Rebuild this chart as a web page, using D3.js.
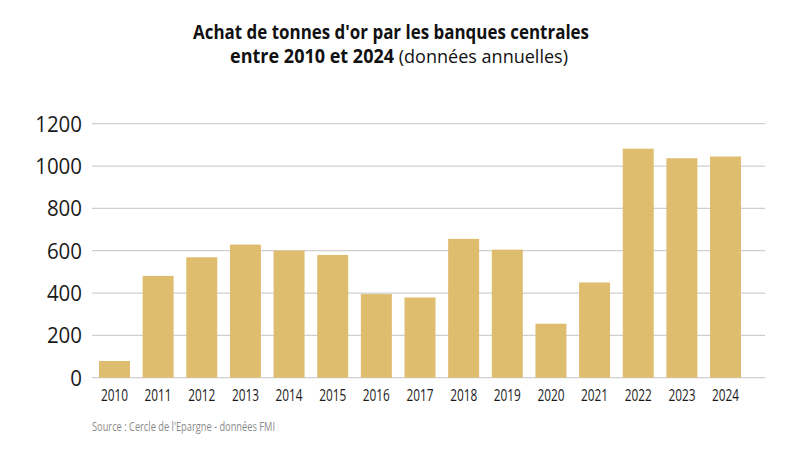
<!DOCTYPE html>
<html>
<head>
<meta charset="utf-8">
<script src="https://cdn.jsdelivr.net/npm/d3@7"></script>
<style>
  body { margin: 0; background: #fff; }
  text { font-family: "Open Sans", "Noto Sans", sans-serif; }
</style>
</head>
<body>
<svg id="chart" width="800" height="450"></svg>
<script>
// donnees
let years = ["2010","2011","2012","2013","2014","2015","2016","2017","2018","2019","2020","2021","2022","2023","2024"];
let tonnes = [79, 481, 569, 629, 601, 580, 395, 379, 656, 605, 255, 450, 1082, 1037, 1045];
let yTicks = [0, 200, 400, 600, 800, 1000, 1200];

let svg = d3.select("#chart");

let x = d3.scaleBand()
    .domain(years)
    .range([92, 748])
    .paddingInner(0.29)
    .paddingOuter(0.16);

let y = d3.scaleLinear()
    .domain([0, 1200])
    .range([377.7, 123.7]);

// grille
svg.append("g")
    .selectAll("line")
    .data(yTicks)
    .enter().append("line")
    .attr("x1", 92)
    .attr("x2", 765)
    .attr("y1", d => y(d))
    .attr("y2", d => y(d))
    .style("stroke", "#cfcfcf")
    .style("stroke-width", "1.3px");

// barres
svg.append("g")
    .selectAll("rect")
    .data(years)
    .enter().append("rect")
    .attr("x", d => x(d))
    .attr("width", x.bandwidth())
    .attr("y", (d, i) => y(tonnes[i]))
    .attr("height", (d, i) => y(0) - y(tonnes[i]))
    .style("fill", "#dfbd6f");

// axe y
svg.append("g")
    .selectAll("text")
    .data(yTicks)
    .enter().append("text")
    .attr("x", 82)
    .attr("y", d => y(d) + 8)
    .attr("text-anchor", "end")
    .attr("font-size", 22)
    .attr("textLength", d => String(d).length * 11.7)
    .attr("lengthAdjust", "spacingAndGlyphs")
    .style("fill", "#1a1a1a")
    .text(d => d);

// axe x
svg.append("g")
    .selectAll("text")
    .data(years)
    .enter().append("text")
    .attr("x", d => x(d) + x.bandwidth() / 2)
    .attr("y", 400.5)
    .attr("text-anchor", "middle")
    .attr("font-size", 16)
    .attr("textLength", 27)
    .attr("lengthAdjust", "spacingAndGlyphs")
    .style("fill", "#1a1a1a")
    .text(d => d);

// titre
svg.append("text")
    .attr("x", 391)
    .attr("y", 39)
    .attr("text-anchor", "middle")
    .attr("font-size", 19)
    .attr("font-weight", "bold")
    .attr("textLength", 396)
    .attr("lengthAdjust", "spacingAndGlyphs")
    .style("fill", "#111")
    .text("Achat de tonnes d'or par les banques centrales");

let t2 = svg.append("text")
    .attr("x", 399)
    .attr("y", 63)
    .attr("text-anchor", "middle")
    .attr("font-size", 19)
    .attr("textLength", 338)
    .attr("lengthAdjust", "spacingAndGlyphs")
    .style("fill", "#111");
t2.append("tspan").attr("font-weight", "bold").text("entre 2010 et 2024 ");
t2.append("tspan").text("(données annuelles)");

// source
svg.append("text")
    .attr("x", 92)
    .attr("y", 431)
    .attr("font-size", 13.5)
    .attr("textLength", 183)
    .attr("lengthAdjust", "spacingAndGlyphs")
    .style("fill", "#8a8a8a")
    .text("Source : Cercle de l'Epargne - données FMI");
</script>
</body>
</html>
